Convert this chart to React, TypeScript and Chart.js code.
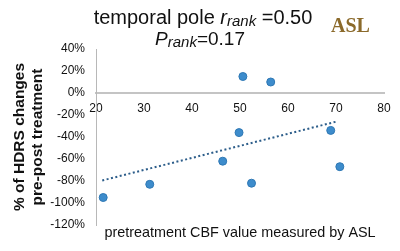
import React, { useEffect, useRef } from "react";
import { Chart, registerables } from "chart.js";

Chart.register(...registerables);

const cbfValues = [21.5, 31.2, 46.4, 49.8, 50.6, 52.4, 56.4, 68.9, 70.8];
const hdrsChange = [-95, -83, -62, -36, 15, -82, 10, -34, -67];
const trendX = [21.3, 70.1];
const trendY = [-79.5, -26];
const xTicks = [20, 30, 40, 50, 60, 70, 80];
const yTicks = [40, 20, 0, -20, -40, -60, -80, -100, -120];

const FONT = "'Liberation Sans', Arial, sans-serif";

type Seg = { text: string; size: number; italic?: boolean; dy?: number };

function drawSegs(ctx: CanvasRenderingContext2D, segs: Seg[], cx: number, baseline: number) {
  const fontOf = (s: Seg) => `${s.italic ? "italic " : ""}${s.size}px ${FONT}`;
  let total = 0;
  for (const s of segs) {
    ctx.font = fontOf(s);
    total += ctx.measureText(s.text).width;
  }
  let x = cx - total / 2;
  ctx.textAlign = "left";
  ctx.textBaseline = "alphabetic";
  for (const s of segs) {
    ctx.font = fontOf(s);
    ctx.fillText(s.text, x, baseline + (s.dy || 0));
    x += ctx.measureText(s.text).width;
  }
}

const textPlugin = {
  id: "textPlugin",
  afterDraw(chart: any) {
    const ctx = chart.ctx as CanvasRenderingContext2D;
    const area = chart.chartArea;
    ctx.save();
    ctx.fillStyle = "#111";
    drawSegs(
      ctx,
      [
        { text: "temporal pole ", size: 20 },
        { text: "r", size: 20, italic: true },
        { text: "rank", size: 15, italic: true, dy: 1.5 },
        { text: " =0.50", size: 20 },
      ],
      203,
      24
    );
    drawSegs(
      ctx,
      [
        { text: "P", size: 19, italic: true },
        { text: "rank", size: 15, italic: true, dy: 1.5 },
        { text: "=0.17", size: 19 },
      ],
      200,
      45
    );
    ctx.font = `bold 20px 'Liberation Serif', 'Times New Roman', serif`;
    ctx.fillStyle = "#8b6a2b";
    ctx.textAlign = "left";
    ctx.fillText("ASL", 331, 32);
    ctx.fillStyle = "#111";
    ctx.font = `14.4px ${FONT}`;
    ctx.textAlign = "center";
    ctx.fillText("pretreatment CBF value measured by ASL", (area.left + area.right) / 2, 237);
    ctx.restore();
  },
};

export default function App() {
  const ref = useRef<HTMLCanvasElement | null>(null);
  useEffect(() => {
    if (!ref.current) return;
    const chart = new Chart(ref.current, {
      type: "scatter",
      data: {
        datasets: [
          {
            label: "trend",
            type: "line",
            data: trendX.map((x, i) => ({ x, y: trendY[i] })),
            borderColor: "#2c5d8a",
            borderWidth: 2,
            borderDash: [2, 2.5],
            pointRadius: 0,
            fill: false,
            order: 2,
          } as any,
          {
            label: "patients",
            data: cbfValues.map((x, i) => ({ x, y: hdrsChange[i] })),
            backgroundColor: "#3d8ccc",
            borderColor: "#2f78b4",
            borderWidth: 1,
            pointRadius: 4,
            order: 1,
          },
        ],
      },
      options: {
        animation: false,
        responsive: true,
        maintainAspectRatio: false,
        layout: { padding: { left: 0, right: 16, top: 49, bottom: 26 } },
        plugins: { legend: { display: false }, tooltip: { enabled: false } },
        scales: {
          x: {
            type: "linear",
            position: { y: 0 } as any,
            min: 20,
            max: 80,
            afterBuildTicks: (scale: any) => {
              scale.ticks = xTicks.map((v) => ({ value: v }));
            },
            grid: { display: false, drawTicks: false },
            border: { display: true, color: "#c4c4c4", width: 2 },
            ticks: { color: "#111", font: { family: FONT, size: 12 }, padding: 8, maxRotation: 0 },
          },
          y: {
            type: "linear",
            min: -120,
            max: 40,
            afterBuildTicks: (scale: any) => {
              scale.ticks = yTicks.map((v) => ({ value: v }));
            },
            afterFit: (scale: any) => {
              scale.width = 96;
            },
            grid: { display: false },
            border: { display: true, color: "#b8b8b8", width: 1 },
            ticks: {
              color: "#111",
              font: { family: FONT, size: 12 },
              callback: (v: any) => `${v}%`,
            },
            title: {
              display: true,
              text: ["% of HDRS changes", "pre-post treatment"],
              color: "#111",
              font: { family: FONT, size: 15.5, weight: "bold", lineHeight: 1.15 },
              padding: { top: 11, bottom: 0 },
            },
          },
        },
      },
      plugins: [textPlugin],
    });
    return () => chart.destroy();
  }, []);
  return (
    <div style={{ position: "fixed", left: 0, top: 0, width: 400, height: 251, background: "#fff" }}>
      <canvas ref={ref} />
    </div>
  );
}
